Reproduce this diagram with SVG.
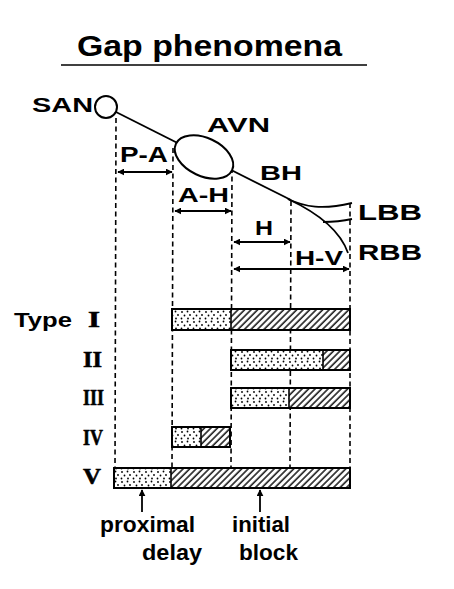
<svg xmlns="http://www.w3.org/2000/svg" width="454" height="589" viewBox="0 0 454 589">
<style>
  .lbl { font-family: "Liberation Sans", Arial, sans-serif; font-weight: bold; fill: #000; }
  .num { font-family: "Liberation Serif", "Times New Roman", serif; font-weight: bold; fill: #000; stroke: #000; stroke-width: 0.6; }
  .low { font-family: "Liberation Sans", Arial, sans-serif; font-weight: bold; fill: #000; }
  .ln { stroke: #000; stroke-width: 1.8; fill: none; }
  .dash { stroke: #000; stroke-width: 1.6; stroke-dasharray: 5 3.5; fill: none; }
  .dim { stroke: #000; stroke-width: 1.8; fill: none; marker-start: url(#ah); marker-end: url(#ah); }
  .up { stroke: #000; stroke-width: 1.8; fill: none; marker-end: url(#ah); }
  .bar { stroke: #000; stroke-width: 2; fill: none; }
  .dots { fill: url(#dots); stroke: none; }
  .hatch { fill: url(#hatch); stroke: none; }
</style>
<defs>
  <marker id="ah" viewBox="0 0 10 10" refX="9" refY="5" markerWidth="7" markerHeight="7" markerUnits="userSpaceOnUse" orient="auto-start-reverse">
    <path d="M0,0 L10,5 L0,10 Z" fill="#000"/>
  </marker>
  <pattern id="dots" width="12" height="10" patternUnits="userSpaceOnUse">
    <rect width="12" height="10" fill="#fff"/>
    <circle cx="2" cy="2" r="0.9" fill="#000"/>
    <circle cx="7.5" cy="1.5" r="0.9" fill="#000"/>
    <circle cx="4.5" cy="5.5" r="0.9" fill="#000"/>
    <circle cx="10" cy="5" r="0.9" fill="#000"/>
    <circle cx="1.5" cy="8.5" r="0.9" fill="#000"/>
    <circle cx="8" cy="8.5" r="0.9" fill="#000"/>
  </pattern>
  <pattern id="hatch" width="4.6" height="10" patternUnits="userSpaceOnUse" patternTransform="rotate(45)">
    <rect width="4.6" height="10" fill="#fff"/>
    <line x1="1" y1="0" x2="1" y2="10" stroke="#000" stroke-width="1.4"/>
  </pattern>
</defs>
<rect width="454" height="589" fill="#fff"/>

<g id="title">
  <text class="lbl" x="77" y="56" font-size="29" textLength="265" lengthAdjust="spacingAndGlyphs">Gap  phenomena</text>
  <line x1="61" y1="65" x2="367" y2="65" stroke="#000" stroke-width="1.6"/>
</g>

<g id="connectors">
  <line class="ln" x1="116" y1="112" x2="291" y2="200"/>
  <path class="ln" d="M288,199 C305,207 322,210 352,203"/>
  <path class="ln" d="M288,199 C318,213 340,230 348,253"/>
  <path class="ln" d="M323,222 C333,222 343,221 352,219"/>
  <line class="dash" x1="116" y1="118" x2="115" y2="468"/>
  <line class="dash" x1="173" y1="148" x2="172" y2="468"/>
  <line class="dash" x1="232" y1="168" x2="231" y2="468"/>
  <line class="dash" x1="291" y1="201" x2="290" y2="468"/>
  <line class="dash" x1="350" y1="203" x2="350" y2="468"/>
  <line class="dim" x1="118" y1="172" x2="172" y2="172"/>
  <line class="dim" x1="175" y1="211" x2="231" y2="211"/>
  <line class="dim" x1="234" y1="242" x2="290" y2="242"/>
  <line class="dim" x1="234" y1="269" x2="349" y2="269"/>
  <line class="up" x1="142" y1="512" x2="142" y2="490"/>
  <line class="up" x1="260" y1="512" x2="260" y2="490"/>
</g>

<g id="SAN">
  <circle cx="106" cy="107" r="11" fill="#fff" stroke="#000" stroke-width="2"/>
  <text class="lbl" x="32" y="112" font-size="21" textLength="61" lengthAdjust="spacingAndGlyphs">SAN</text>
</g>
<g id="AVN">
  <ellipse cx="204" cy="157" rx="31" ry="19" transform="rotate(25 204 157)" fill="#fff" stroke="#000" stroke-width="2"/>
  <text class="lbl" x="207" y="132" font-size="20" textLength="63" lengthAdjust="spacingAndGlyphs">AVN</text>
</g>
<g id="BH">
  <text class="lbl" x="260" y="180" font-size="21" textLength="42" lengthAdjust="spacingAndGlyphs">BH</text>
</g>
<g id="LBB">
  <text class="lbl" x="358" y="220" font-size="22" textLength="64" lengthAdjust="spacingAndGlyphs">LBB</text>
</g>
<g id="RBB">
  <text class="lbl" x="358" y="260" font-size="22" textLength="64" lengthAdjust="spacingAndGlyphs">RBB</text>
</g>

<g id="labels-intervals">
  <text class="lbl" x="120" y="162" font-size="22" textLength="48" lengthAdjust="spacingAndGlyphs">P-A</text>
  <text class="lbl" x="178" y="202" font-size="21" textLength="51" lengthAdjust="spacingAndGlyphs">A-H</text>
  <text class="lbl" x="255" y="235" font-size="21" textLength="18" lengthAdjust="spacingAndGlyphs">H</text>
  <text class="lbl" x="295" y="265" font-size="21" textLength="48" lengthAdjust="spacingAndGlyphs">H-V</text>
</g>

<g id="type-I">
  <text class="lbl" x="14" y="327" font-size="21" textLength="58" lengthAdjust="spacingAndGlyphs">Type</text>
  <text class="num" x="88" y="327" font-size="24" textLength="12" lengthAdjust="spacingAndGlyphs">I</text>
  <rect class="dots" x="172" y="309" width="59" height="21"/>
  <rect class="hatch" x="231" y="309" width="119" height="21"/>
  <line x1="231" y1="309" x2="231" y2="330" stroke="#000" stroke-width="1.6"/>
  <rect class="bar" x="172" y="309" width="178" height="21"/>
</g>
<g id="type-II">
  <text class="num" x="83" y="367" font-size="24" textLength="19" lengthAdjust="spacingAndGlyphs">II</text>
  <rect class="dots" x="231" y="350" width="92" height="20"/>
  <rect class="hatch" x="323" y="350" width="27" height="20"/>
  <line x1="323" y1="350" x2="323" y2="370" stroke="#000" stroke-width="1.6"/>
  <rect class="bar" x="231" y="350" width="119" height="20"/>
</g>
<g id="type-III">
  <text class="num" x="83" y="405" font-size="24" textLength="21" lengthAdjust="spacingAndGlyphs">III</text>
  <rect class="dots" x="231" y="388" width="58" height="20"/>
  <rect class="hatch" x="289" y="388" width="61" height="20"/>
  <line x1="289" y1="388" x2="289" y2="408" stroke="#000" stroke-width="1.6"/>
  <rect class="bar" x="231" y="388" width="119" height="20"/>
</g>
<g id="type-IV">
  <text class="num" x="83" y="445" font-size="24" textLength="20" lengthAdjust="spacingAndGlyphs">IV</text>
  <rect class="dots" x="172" y="427" width="29" height="20"/>
  <rect class="hatch" x="201" y="427" width="29" height="20"/>
  <line x1="201" y1="427" x2="201" y2="447" stroke="#000" stroke-width="1.6"/>
  <rect class="bar" x="172" y="427" width="58" height="20"/>
</g>
<g id="type-V">
  <text class="num" x="83" y="484" font-size="24" textLength="18" lengthAdjust="spacingAndGlyphs">V</text>
  <rect class="dots" x="114" y="468" width="57" height="20"/>
  <rect class="hatch" x="171" y="468" width="179" height="20"/>
  <line x1="171" y1="468" x2="171" y2="488" stroke="#000" stroke-width="1.6"/>
  <rect class="bar" x="114" y="468" width="236" height="20"/>
</g>

<g id="proximal-delay">
  <text class="low" x="100" y="532" font-size="22" textLength="95" lengthAdjust="spacingAndGlyphs">proximal</text>
  <text class="low" x="142" y="560" font-size="22" textLength="60" lengthAdjust="spacingAndGlyphs">delay</text>
</g>
<g id="initial-block">
  <text class="low" x="232" y="532" font-size="22" textLength="58" lengthAdjust="spacingAndGlyphs">initial</text>
  <text class="low" x="239" y="560" font-size="22" textLength="59" lengthAdjust="spacingAndGlyphs">block</text>
</g>
</svg>
